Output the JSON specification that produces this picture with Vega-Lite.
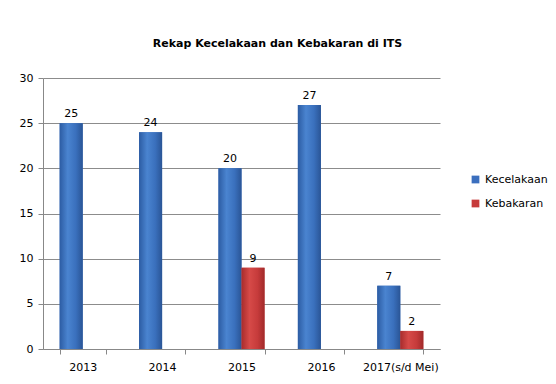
{
  "$schema": "https://vega.github.io/schema/vega-lite/v6.json",
  "width": 397,
  "height": 271,
  "autosize": {"type": "none"},
  "padding": {"left": 43, "top": 78, "right": 116, "bottom": 35},
  "background": "white",
  "title": {
    "text": "Rekap Kecelakaan dan Kebakaran di ITS",
    "font": "DejaVu Sans",
    "fontSize": 11,
    "fontWeight": "bold",
    "color": "#000000",
    "anchor": "middle",
    "dx": 36,
    "offset": 23
  },
  "config": {
    "view": {"stroke": null},
    "font": "DejaVu Sans"
  },
  "data": {
    "values": [
      {"tahun": "2013", "jenis": "Kecelakaan", "jumlah": 25},
      {"tahun": "2014", "jenis": "Kecelakaan", "jumlah": 24},
      {"tahun": "2015", "jenis": "Kecelakaan", "jumlah": 20},
      {"tahun": "2015", "jenis": "Kebakaran", "jumlah": 9},
      {"tahun": "2016", "jenis": "Kecelakaan", "jumlah": 27},
      {"tahun": "2017(s/d Mei)", "jenis": "Kecelakaan", "jumlah": 7},
      {"tahun": "2017(s/d Mei)", "jenis": "Kebakaran", "jumlah": 2}
    ]
  },
  "encoding": {
    "x": {
      "field": "tahun",
      "type": "nominal",
      "sort": null,
      "scale": {"paddingInner": 0.42, "paddingOuter": 0.21},
      "axis": {
        "title": null,
        "labelAngle": 0,
        "labelFontSize": 11,
        "labelColor": "#000000",
        "labelPadding": 7,
        "domainColor": "#888888",
        "tickColor": "#888888",
        "tickBand": "extent",
        "tickSize": 5,
        "grid": false
      }
    },
    "xOffset": {
      "field": "jenis",
      "type": "nominal",
      "sort": ["Kecelakaan", "Kebakaran"],
      "scale": {"domain": ["Kecelakaan", "Kebakaran"], "padding": 0}
    },
    "y": {
      "field": "jumlah",
      "type": "quantitative",
      "scale": {"domain": [0, 30]},
      "axis": {
        "title": null,
        "values": [0, 5, 10, 15, 20, 25, 30],
        "labelFontSize": 11,
        "labelColor": "#000000",
        "labelPadding": 5,
        "domainColor": "#888888",
        "tickColor": "#888888",
        "tickSize": 5,
        "gridColor": "#8c8c8c",
        "gridWidth": 1
      }
    }
  },
  "layer": [
    {
      "mark": {"type": "bar"},
      "encoding": {
        "color": {
          "field": "jenis",
          "type": "nominal",
          "scale": {"domain": ["Kecelakaan", "Kebakaran"], "range": ["#3b6fbe", "#c63b3b"]},
          "legend": {
            "title": null,
            "orient": "none",
            "legendX": 427,
            "legendY": 96,
            "symbolType": "square",
            "symbolSize": 60,
            "symbolStrokeWidth": 0,
            "labelFontSize": 11,
            "labelColor": "#000000",
            "rowPadding": 12,
            "labelOffset": 4
          }
        }
      }
    },
    {
      "transform": [{"filter": "datum.jenis === 'Kecelakaan'"}],
      "mark": {
        "type": "bar",
        "color": {
          "gradient": "linear",
          "x1": 0, "y1": 0, "x2": 1, "y2": 0,
          "stops": [
            {"offset": 0, "color": "#2c5ca3"},
            {"offset": 0.35, "color": "#4a84d0"},
            {"offset": 0.7, "color": "#3a70bd"},
            {"offset": 1, "color": "#2a5596"}
          ]
        }
      }
    },
    {
      "transform": [{"filter": "datum.jenis === 'Kebakaran'"}],
      "mark": {
        "type": "bar",
        "color": {
          "gradient": "linear",
          "x1": 0, "y1": 0, "x2": 1, "y2": 0,
          "stops": [
            {"offset": 0, "color": "#a82c2c"},
            {"offset": 0.35, "color": "#d64a48"},
            {"offset": 0.7, "color": "#c63b3b"},
            {"offset": 1, "color": "#a12a2a"}
          ]
        }
      }
    },
    {
      "mark": {"type": "text", "dy": -9, "fontSize": 11, "color": "#000000"},
      "encoding": {
        "text": {"field": "jumlah", "type": "quantitative"}
      }
    }
  ]
}
